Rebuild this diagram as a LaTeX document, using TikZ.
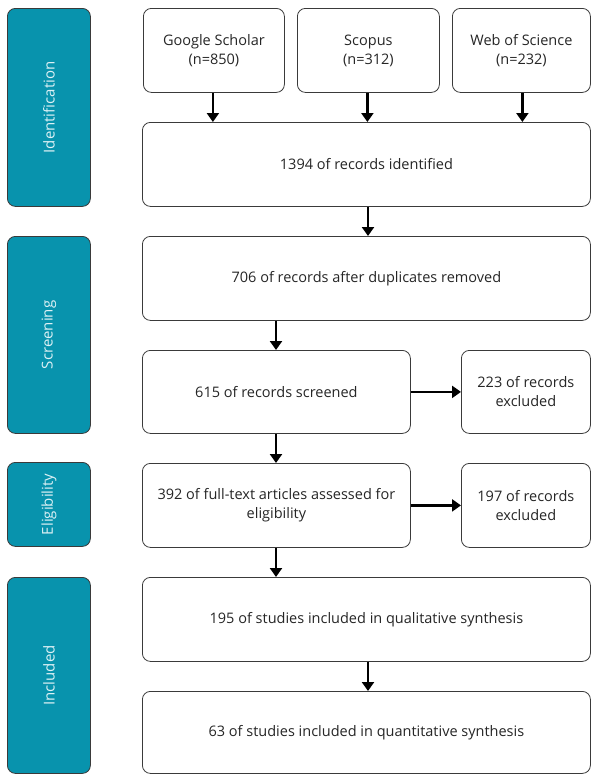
\documentclass[tikz,border=0pt]{standalone}
\usepackage{fontspec}
\setmainfont{Open Sans}
\usetikzlibrary{arrows.meta}
\definecolor{teal1}{HTML}{0893AD}
\definecolor{phase}{HTML}{DDF1F5}
\definecolor{edge}{HTML}{3A3A3A}
\begin{document}
\begin{tikzpicture}[x=1pt,y=-1pt,
  box/.style={draw=edge,line width=0.8pt,rounded corners=8pt,fill=white,anchor=north west,inner sep=2pt,align=center,font=\fontsize{14.5}{19}\selectfont,text=black!85},
  phasebox/.style={draw=edge,line width=0.8pt,rounded corners=8pt,fill=teal1,anchor=north west,inner sep=0pt},
  phaselabel/.style={rotate=90,text=phase,font=\fontsize{15}{18}\selectfont},
  arr/.style={line width=2.8pt,-{Triangle[width=12pt,length=9pt]}}]
\useasboundingbox (0,0) rectangle (591,774);
% phase boxes
\node[phasebox,minimum width=83pt,minimum height=198pt] (pid) at (7,8) {};
\node[phaselabel] at (pid.center) {Identification};
\node[phasebox,minimum width=83pt,minimum height=197pt] (psc) at (7,236) {};
\node[phaselabel] at (psc.center) {Screening};
\node[phasebox,minimum width=83pt,minimum height=84pt] (pel) at (7,462) {};
\node[phaselabel] at (pel.center) {Eligibility};
\node[phasebox,minimum width=83pt,minimum height=196pt] (pin) at (7,577) {};
\node[phaselabel] at (pin.center) {Included};
% sources
\node[box,minimum width=141pt,minimum height=84pt] (gs) at (143,8) {Google Scholar\\(n=850)};
\node[box,minimum width=142pt,minimum height=84pt] (sc) at (297,8) {Scopus\\(n=312)};
\node[box,minimum width=138pt,minimum height=84pt] (ws) at (452,8) {Web of Science\\(n=232)};
% main flow
\node[box,minimum width=448pt,minimum height=84pt] (id) at (142,122) {1394 of records identified};
\node[box,minimum width=448pt,minimum height=84pt] (dup) at (142,236) {706 of records after duplicates removed};
\node[box,minimum width=268pt,minimum height=83pt] (scr) at (142,350) {615 of records screened};
\node[box,minimum width=129pt,minimum height=83pt] (ex1) at (461,350) {223 of records\\excluded};
\node[box,minimum width=268pt,minimum height=84pt] (el) at (142,463) {392 of full-text articles assessed for\\eligibility};
\node[box,minimum width=129pt,minimum height=84pt] (ex2) at (461,463) {197 of records\\excluded};
\node[box,minimum width=448pt,minimum height=84pt] (qual) at (142,577) {195 of studies included in qualitative synthesis};
\node[box,minimum width=448pt,minimum height=82pt] (quan) at (142,691) {63 of studies included in quantitative synthesis};
% arrows
\draw[arr] (gs.south) ++(-1,0) coordinate (a1) -- (a1 |- id.north);
\draw[arr] (sc.south) ++(-1,0) coordinate (a2) -- (a2 |- id.north);
\draw[arr] (ws.south) ++(1,0) coordinate (a3) -- (a3 |- id.north);
\coordinate (c1) at (368,0);
\draw[arr] (c1 |- id.south) -- (c1 |- dup.north);
\coordinate (c2) at (276,0);
\draw[arr] (c2 |- dup.south) -- (c2 |- scr.north);
\draw[arr] (scr.east) -- (ex1.west);
\draw[arr] (c2 |- scr.south) -- (c2 |- el.north);
\draw[arr] (el.east) -- (ex2.west);
\draw[arr] (c2 |- el.south) -- (c2 |- qual.north);
\draw[arr] (c1 |- qual.south) -- (c1 |- quan.north);
\end{tikzpicture}
\end{document}
